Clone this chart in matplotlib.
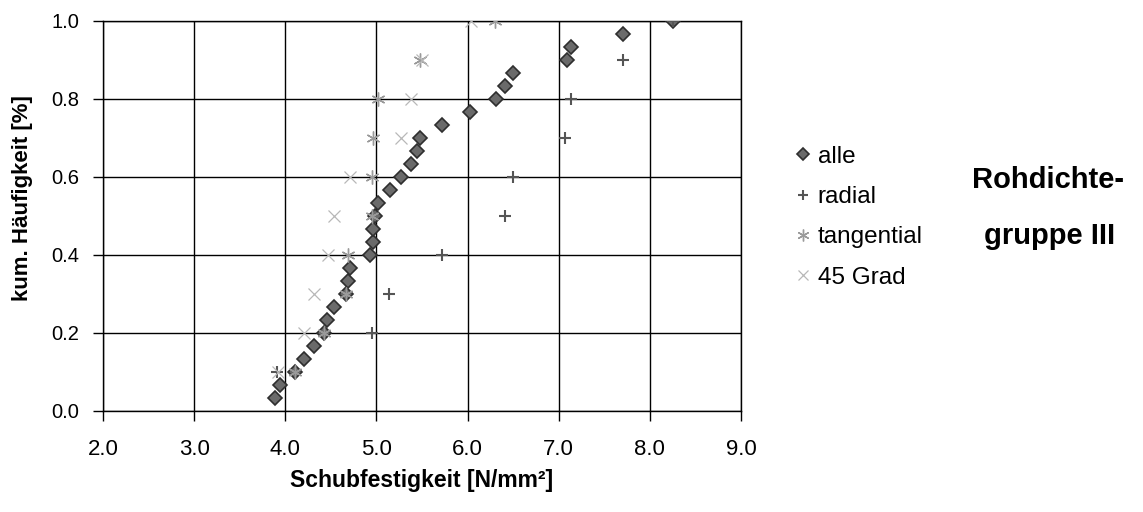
import matplotlib
matplotlib.use("Agg")
from matplotlib import pyplot as plt

plt.rcParams['font.family'] = ['Liberation Sans', 'DejaVu Sans']

# cumulative frequency levels
y_alle = [(i + 1) / 30 for i in range(30)]
y_ten = [(i + 1) / 10 for i in range(10)]

x_alle = [3.89, 3.94, 4.11, 4.20, 4.31, 4.42, 4.46, 4.54, 4.67, 4.69,
          4.71, 4.93, 4.96, 4.96, 4.98, 5.02, 5.15, 5.27, 5.38, 5.44,
          5.48, 5.72, 6.03, 6.31, 6.41, 6.50, 7.09, 7.14, 7.71, 8.25]
x_radial = [3.91, 4.95, 5.14, 5.72, 6.41, 6.50, 7.07, 7.14, 7.70, 8.25]
x_tangential = [4.11, 4.42, 4.67, 4.69, 4.95, 4.95, 4.96, 5.02, 5.48, 6.30]
x_45 = [3.92, 4.20, 4.32, 4.47, 4.54, 4.71, 5.27, 5.38, 5.50, 6.04]

x_ticks = [2.0, 3.0, 4.0, 5.0, 6.0, 7.0, 8.0, 9.0]
y_ticks = [0.0, 0.2, 0.4, 0.6, 0.8, 1.0]

fig = plt.figure(figsize=(11.43, 5.12), dpi=100)
ax = fig.add_axes([0.0901, 0.1973, 0.5582, 0.7617])

ax.plot(x_alle, y_alle, linestyle='none', marker='D', markersize=7.5,
        markerfacecolor='#6a6a6a', markeredgecolor='#2e2e2e', markeredgewidth=1.2,
        label='alle', zorder=3)
ax.plot(x_radial, y_ten, linestyle='none', marker='+', markersize=9,
        markeredgewidth=1.5, color='#555555', label='radial', zorder=4)
ax.plot(x_tangential, y_ten, linestyle='none', marker=(6, 2, 0), markersize=10,
        markeredgewidth=1.0, color='#9a9a9a', label='tangential', zorder=5)
ax.plot(x_45, y_ten, linestyle='none', marker='x', markersize=9,
        markeredgewidth=0.9, color='#b8b8b8', label='45 Grad', zorder=5)

ax.set_xlim(2.0, 9.0)
ax.set_ylim(0.0, 1.0)
ax.set_xticks(x_ticks)
ax.set_yticks(y_ticks)
ax.set_xticklabels(['%.1f' % v for v in x_ticks])
ax.set_yticklabels(['%.1f' % v for v in y_ticks])
ax.tick_params(direction='out', length=7, width=1, colors='black')
ax.tick_params(axis='x', labelsize=16, pad=13)
ax.tick_params(axis='y', labelsize=14.5, pad=10)
ax.grid(True, color='black', linewidth=1.0)
ax.set_axisbelow(True)
for s in ax.spines.values():
    s.set_color('black')
    s.set_linewidth(1.0)

ax.set_xlabel('Schubfestigkeit [N/mm²]', fontsize=16.5, fontweight='bold', va='top')
ax.xaxis.set_label_coords(0.5, -0.149)
ax.set_ylabel('kum. Häufigkeit [%]', fontsize=16, fontweight='bold')
ax.yaxis.set_label_coords(-0.11, 0.546)

ax.legend(loc='center left', bbox_to_anchor=(1.082, 0.497), frameon=False,
          fontsize=17.5, handletextpad=0.2, labelspacing=0.75, handlelength=0.8,
          borderpad=0, borderaxespad=0, markerscale=0.85)

fig.text(0.917, 0.648, 'Rohdichte-', fontsize=21, fontweight='bold', ha='center', va='center')
fig.text(0.918, 0.540, 'gruppe III', fontsize=21, fontweight='bold', ha='center', va='center')

fig.savefig('out.png', dpi=100)
